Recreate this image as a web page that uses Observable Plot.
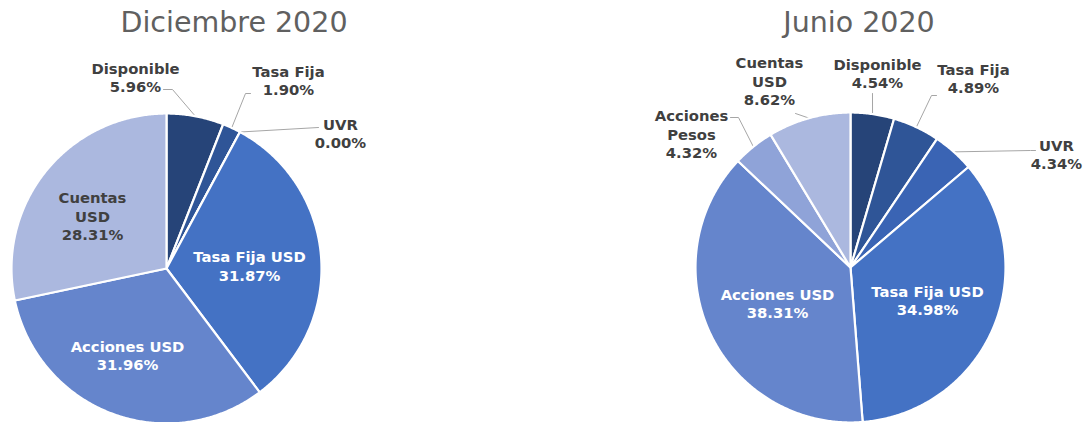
<!DOCTYPE html>
<html>
<head>
<meta charset="utf-8">
<script src="https://cdn.jsdelivr.net/npm/d3@7"></script>
<script src="https://cdn.jsdelivr.net/npm/@observablehq/plot@0.6"></script>
<style>
  html, body { margin: 0; padding: 0; background: #fff; }
  body { font-family: "DejaVu Sans", Verdana, sans-serif; width: 1086px; height: 422px; overflow: hidden; }
  #wrap { display: flex; width: 1086px; }
  .panel { width: 543px; position: relative; }
  .title { position: relative; height: 45px; }
  .title span { position: absolute; top: 9px; transform: translateX(-50%); font-size: 28.5px; line-height: 28px; color: #606060; white-space: nowrap; }
  svg { display: block; }
</style>
</head>
<body>
<div id="wrap">
  <div class="panel" id="p1"><div class="title"><span style="left:234px">Diciembre 2020</span></div></div>
  <div class="panel" id="p2"><div class="title"><span style="left:316px">Junio 2020</span></div></div>
</div>
<script>
// ---------- data ----------
const allCategories = ["Disponible", "Tasa Fija", "UVR", "Tasa Fija USD", "Acciones USD", "Acciones Pesos", "Cuentas USD"];
const categoryColors = ["#264478", "#2f5597", "#3a64b4", "#4472c4", "#6585cc", "#8fa3d8", "#abb8df"];

const decCategories = ["Disponible", "Tasa Fija", "UVR", "Tasa Fija USD", "Acciones USD", "Cuentas USD"];
const decValues     = [5.96, 1.90, 0.00, 31.87, 31.96, 28.31];

const junCategories = ["Disponible", "Tasa Fija", "UVR", "Tasa Fija USD", "Acciones USD", "Acciones Pesos", "Cuentas USD"];
const junValues     = [4.54, 4.89, 4.34, 34.98, 38.31, 4.32, 8.62];

const labelNames = {"Cuentas USD": "Cuentas\nUSD", "Acciones Pesos": "Acciones\nPesos"};
const whiteLabels = ["Tasa Fija USD", "Acciones USD"];

// ---------- layout (pixels, offsets from pie centre, y downward) ----------
const W = 543, H = 377, R = 155;
const decLayout = {
  cx: 166, cy: 223,
  labelPos: { "Disponible": [-31, -191.5], "Tasa Fija": [122, -188.5], "UVR": [174, -135.5],
              "Tasa Fija USD": [83, -3], "Acciones USD": [-39, 86.5], "Cuentas USD": [-74, -52.6] },
  leaders: { "Disponible": [[-3, -179], [6, -179]], "Tasa Fija": [[84, -175], [79, -175]], "UVR": [[152, -141]] }
};
const junLayout = {
  cx: 307, cy: 222,
  labelPos: { "Cuentas USD": [-81, -186.6], "Disponible": [27, -194.5], "Tasa Fija": [123, -189.5], "UVR": [206, -113.5], "Acciones Pesos": [-159, -133.6],
              "Tasa Fija USD": [77, 32.5], "Acciones USD": [-73, 35.5] },
  leaders: { "Cuentas USD": [[-55, -154]], "Disponible": [[22, -174]], "Tasa Fija": [[86, -172], [81, -172]], "UVR": [[185, -117], [180, -117]], "Acciones Pesos": [[-120, -150], [-112, -150]] }
};

const fmt = d3.format(".2f");

function drawPie(container, cats, vals, L) {
  const rows = cats.map((c, i) => ({cat: c, value: vals[i]}));
  const arcs = d3.pie().sort(null).value(d => d.value)(rows);

  // slice outlines in unit-radius coordinates (y up)
  const slicePts = [];
  arcs.forEach(a => {
    const c = a.data.cat;
    slicePts.push({cat: c, x: 0, y: 0});
    const n = Math.max(1, Math.ceil((a.endAngle - a.startAngle) / (Math.PI / 360)));
    for (let k = 0; k <= n; k++) {
      const t = a.startAngle + (a.endAngle - a.startAngle) * k / n;
      slicePts.push({cat: c, x: Math.sin(t), y: Math.cos(t)});
    }
    slicePts.push({cat: c, x: 0, y: 0});
  });

  // labels
  const labels = arcs.map(a => {
    const c = a.data.cat;
    const mid = (a.startAngle + a.endAngle) / 2;
    let x, y;
    if (L.labelPos[c]) { x = L.labelPos[c][0] / R; y = -L.labelPos[c][1] / R; }
    else { x = Math.sin(mid) * 0.56; y = Math.cos(mid) * 0.56; }
    return {cat: c, x, y, text: (labelNames[c] || c) + "\n" + fmt(a.data.value) + "%", white: whiteLabels.includes(c)};
  });

  // leader lines
  const leaderPts = [];
  arcs.forEach(a => {
    const c = a.data.cat;
    if (!L.leaders[c]) return;
    L.leaders[c].forEach(p => leaderPts.push({cat: c, x: p[0] / R, y: -p[1] / R}));
    const mid = (a.startAngle + a.endAngle) / 2;
    leaderPts.push({cat: c, x: Math.sin(mid), y: Math.cos(mid)});
  });

  const chart = Plot.plot({
    width: W, height: H,
    margin: 0,
    x: {domain: [-L.cx / R, (W - L.cx) / R], axis: null},
    y: {domain: [-(H - L.cy) / R, L.cy / R], axis: null},
    color: {domain: allCategories, range: categoryColors},
    style: {background: "transparent", overflow: "visible"},
    marks: [
      Plot.line(leaderPts, {x: "x", y: "y", z: "cat", stroke: "#a6a6a6", strokeWidth: 1}),
      Plot.line(slicePts, {x: "x", y: "y", z: "cat", fill: "cat", stroke: "white", strokeWidth: 2.2, strokeLinejoin: "round"}),
      Plot.text(labels.filter(d => !d.white), {x: "x", y: "y", text: "text", fill: "#404040", fontSize: 14.8, fontWeight: "bold", fontFamily: "DejaVu Sans", lineHeight: 1.24}),
      Plot.text(labels.filter(d => d.white), {x: "x", y: "y", text: "text", fill: "white", fontSize: 14.8, fontWeight: "bold", fontFamily: "DejaVu Sans", lineHeight: 1.24})
    ]
  });
  container.appendChild(chart);
}

drawPie(document.getElementById("p1"), decCategories, decValues, decLayout);
drawPie(document.getElementById("p2"), junCategories, junValues, junLayout);
</script>
</body>
</html>
